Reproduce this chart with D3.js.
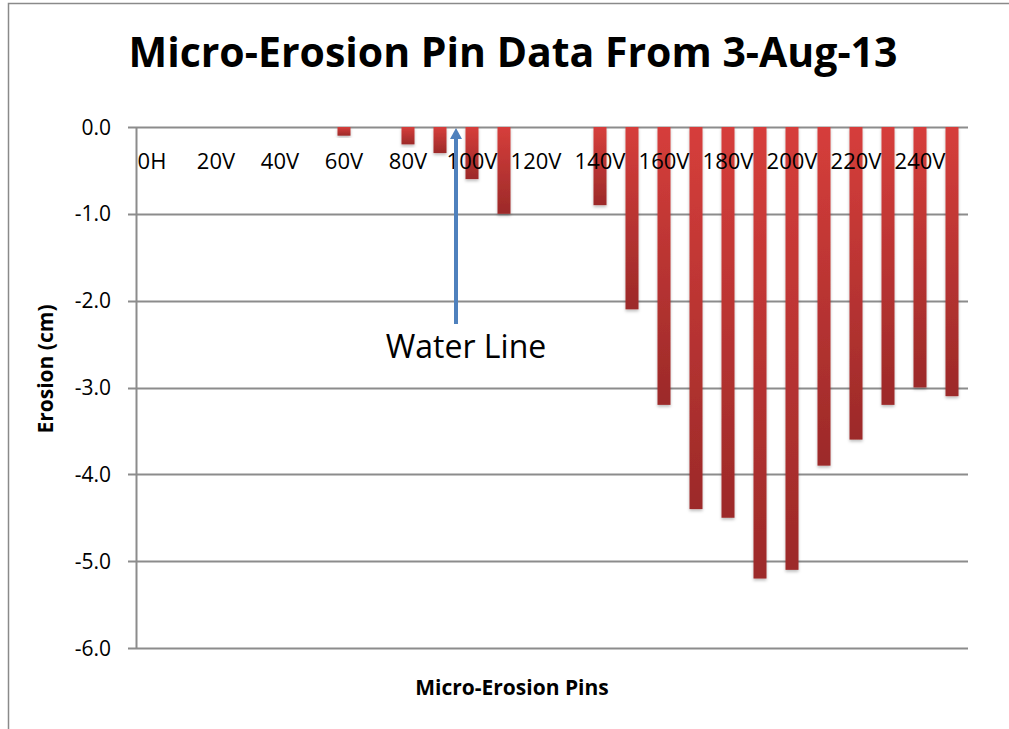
<!DOCTYPE html>
<html>
<head>
<meta charset="utf-8">
<script src="https://cdnjs.cloudflare.com/ajax/libs/d3/7.8.5/d3.min.js"></script>
<style>
  html, body { margin: 0; padding: 0; background: #fff; }
  svg { display: block; }
</style>
</head>
<body>
<script>
// Pin names along the bank, from 0H through 250V
const pins = ["0H","10V","20V","30V","40V","50V","60V","70V","80V","90V","100V","110V","120V",
              "130V","140V","150V","160V","170V","180V","190V","200V","210V","220V","230V","240V","250V"];
// Erosion measured at each pin (cm); null where no change was recorded
const erosion = [null,null,null,null,null,null,-0.1,null,-0.2,-0.3,-0.6,-1.0,null,
                 null,-0.9,-2.1,-3.2,-4.4,-4.5,-5.2,-5.1,-3.9,-3.6,-3.2,-3.0,-3.1];
const yTicks = [0,-1,-2,-3,-4,-5,-6];

const W = 1009, H = 729;
const plot = { left: 136, right: 968, top: 127, bottom: 648 };
const font = "'Open Sans', 'Noto Sans', sans-serif";

const svg = d3.select("body").append("svg").attr("width", W).attr("height", H);

// gradient used by each bar: bright red at the top, deeper red at the bottom
const defs = svg.append("defs");
const grad = defs.append("linearGradient").attr("id", "barFill")
  .attr("x1", 0).attr("y1", 0).attr("x2", 0).attr("y2", 1);
grad.append("stop").attr("offset", "0%").attr("stop-color", "#d63e3b");
grad.append("stop").attr("offset", "100%").attr("stop-color", "#9c2a29");
const shadow = defs.append("filter").attr("id", "barShadow")
  .attr("x", "-50%").attr("y", "-10%").attr("width", "200%").attr("height", "130%");
shadow.append("feDropShadow").attr("dx", 0).attr("dy", 2).attr("stdDeviation", 1.5)
  .attr("flood-color", "#000").attr("flood-opacity", 0.25);

// outer chart frame
svg.append("path").attr("d", `M8.5,${H} V3.5 H${W}`)
  .attr("fill", "none").attr("stroke", "#8a8a8a").attr("stroke-width", 1.5);

const x = d3.scaleBand().domain(pins).range([plot.left, plot.right]).paddingInner(0).paddingOuter(0);
const y = d3.scaleLinear().domain([0, -6]).range([plot.top, plot.bottom]);
const fmt = d => d3.format(".1f")(d).replace("\u2212", "-");

// horizontal gridlines
svg.append("g").selectAll("line").data(yTicks).join("line")
  .attr("x1", plot.left - 8).attr("x2", plot.right)
  .attr("y1", d => Math.round(y(d)) + 0.5).attr("y2", d => Math.round(y(d)) + 0.5)
  .attr("stroke", "#8c8c8c").attr("stroke-width", 2);

// vertical axis line
svg.append("line")
  .attr("x1", plot.left + 0.5).attr("x2", plot.left + 0.5)
  .attr("y1", plot.top).attr("y2", plot.bottom + 1)
  .attr("stroke", "#8c8c8c").attr("stroke-width", 2);

// y tick labels
svg.append("g").selectAll("text").data(yTicks).join("text")
  .attr("x", 111).attr("y", d => y(d) + 7.5)
  .attr("text-anchor", "end")
  .attr("font-family", font).attr("font-size", 21).attr("fill", "#000")
  .text(fmt);

// bars
const barW = 13;
svg.append("g").selectAll("rect")
  .data(pins.map((p, i) => ({ pin: p, v: erosion[i] })).filter(d => d.v !== null))
  .join("rect")
  .attr("x", d => x(d.pin) + x.bandwidth() / 2 - barW / 2)
  .attr("y", y(0))
  .attr("width", barW)
  .attr("height", d => y(d.v) - y(0))
  .attr("fill", "url(#barFill)")
  .attr("filter", "url(#barShadow)");

// category labels every other pin, drawn just under the zero line
svg.append("g").selectAll("text").data(pins.filter((p, i) => i % 2 === 0)).join("text")
  .attr("x", d => x(d) + x.bandwidth() / 2)
  .attr("y", 169)
  .attr("text-anchor", "middle")
  .attr("font-family", font).attr("font-size", 22).attr("fill", "#000")
  .text(d => d);

// water line marker
const wx = 456;
svg.append("line")
  .attr("x1", wx).attr("x2", wx).attr("y1", 324).attr("y2", 138)
  .attr("stroke", "#4f81bd").attr("stroke-width", 4);
svg.append("path")
  .attr("d", `M${wx},128 L${wx - 6},139 L${wx + 6},139 Z`)
  .attr("fill", "#4f81bd");
svg.append("text")
  .attr("x", 466).attr("y", 358)
  .attr("text-anchor", "middle")
  .attr("font-family", font).attr("font-size", 32).attr("fill", "#000")
  .text("Water Line");

// title
svg.append("text")
  .attr("x", 513).attr("y", 67)
  .attr("text-anchor", "middle")
  .attr("font-family", font).attr("font-weight", "bold").attr("font-size", 41).attr("fill", "#000")
  .text("Micro-Erosion Pin Data From 3-Aug-13");

// axis titles
svg.append("text")
  .attr("transform", "translate(53, 369) rotate(-90)")
  .attr("text-anchor", "middle")
  .attr("font-family", font).attr("font-weight", "bold").attr("font-size", 21).attr("fill", "#000")
  .text("Erosion (cm)");
svg.append("text")
  .attr("x", 512).attr("y", 695)
  .attr("text-anchor", "middle")
  .attr("font-family", font).attr("font-weight", "bold").attr("font-size", 21).attr("fill", "#000")
  .text("Micro-Erosion Pins");
</script>
</body>
</html>
